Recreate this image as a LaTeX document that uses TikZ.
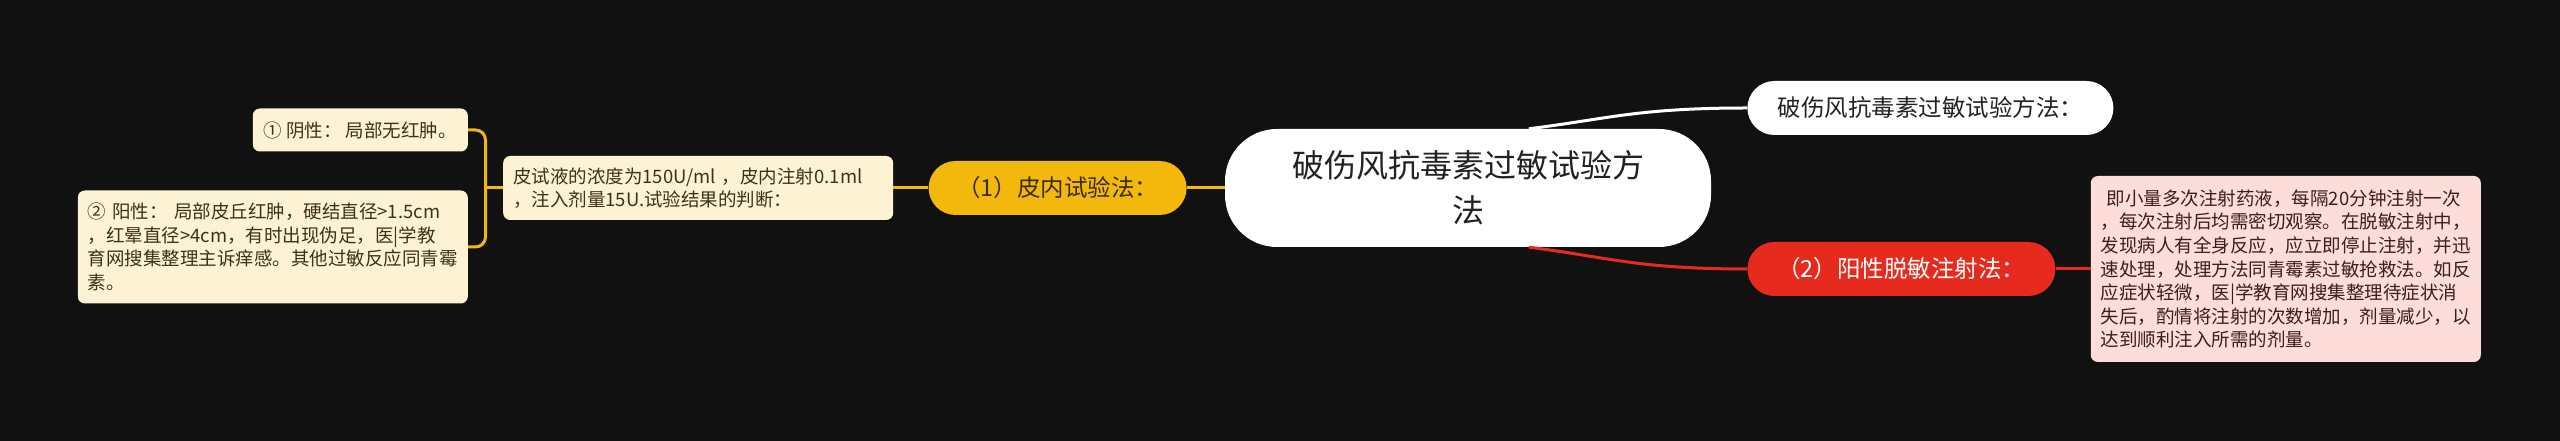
\documentclass[tikz,border=0pt]{standalone}
\usepackage{fontspec}
\setmainfont{Noto Sans CJK SC}
\usetikzlibrary{positioning, calc}

\definecolor{bgcol}{HTML}{111111}
\definecolor{rootink}{HTML}{222222}
\definecolor{yel}{HTML}{F2B80C}
\definecolor{yelink}{HTML}{3A2C06}
\definecolor{redcol}{HTML}{E62B1E}
\definecolor{leaf}{HTML}{FDF3D4}
\definecolor{leafink}{HTML}{3C3218}
\definecolor{pinkcol}{HTML}{FDDCD9}
\definecolor{pinkink}{HTML}{3C1E1E}

\begin{document}
\begin{tikzpicture}[x=1pt, y=1pt,
    rootnode/.style={fill=white, text=rootink, rounded corners=52pt, minimum width=486pt, minimum height=118pt, align=center, font=\fontsize{32}{45}\selectfont},
    pill/.style={rounded corners=27pt, minimum height=54pt, font=\fontsize{23.5}{28}\selectfont},
    note/.style={rounded corners=7pt, inner xsep=10pt, inner ysep=6pt, align=left, font=\fontsize{18.5}{23.6}\selectfont},
    link/.style={line width=3pt}]

  \fill[bgcol] (0,0) rectangle (2560,441);

  % centre and first level
  \node[rootnode] (root) at (1468,253) {破伤风抗毒素过敏试验方\\法};
  \node[pill, fill=yel, text=yelink, minimum width=258pt] (skin) [left=38pt of root] {（1）皮内试验法：};
  \node[pill, fill=white, text=rootink, minimum width=366pt] (method) [right=36pt of root, yshift=80pt] {破伤风抗毒素过敏试验方法：};
  \node[pill, fill=redcol, text=white, minimum width=308pt] (desens) [right=36pt of root, yshift=-81pt] {（2）阳性脱敏注射法：};

  % notes
  \node[note, fill=leaf, text=leafink, text width=370pt, minimum height=64pt] (judge) [left=35pt of skin]
    {皮试液的浓度为150U/ml ，皮内注射0.1ml\\，注入剂量15U.试验结果的判断：};
  \node[note, fill=leaf, text=leafink, minimum width=215pt, minimum height=43pt] (neg) [left=35pt of judge, yshift=58pt]
    {① 阴性： 局部无红肿。};
  \node[note, fill=leaf, text=leafink, text width=370pt, minimum height=113pt] (pos) [left=35pt of judge, yshift=-59pt]
    {② 阳性： 局部皮丘红肿，硬结直径>1.5cm\\，红晕直径>4cm，有时出现伪足，医|学教\\育网搜集整理主诉痒感。其他过敏反应同青霉\\素。};
  \node[note, fill=pinkcol, text=pinkink, text width=370pt, minimum height=186pt] (steps) [right=35pt of desens]
    {\ 即小量多次注射药液，每隔20分钟注射一次\\，每次注射后均需密切观察。在脱敏注射中，\\发现病人有全身反应，应立即停止注射，并迅\\速处理，处理方法同青霉素过敏抢救法。如反\\应症状轻微，医|学教育网搜集整理待症状消\\失后，酌情将注射的次数增加，剂量减少，以\\达到顺利注入所需的剂量。};

  % connectors
  \draw[link, white] ($(root.north)!0.25!(root.north east)$) .. controls +(80,10) and +(-110,0) .. (method.west);
  \draw[link, redcol] ($(root.south)!0.25!(root.south east)$) .. controls +(80,-10) and +(-110,0) .. (desens.west);
  \draw[link, redcol] (desens.east) -- (steps.west);
  \draw[link, yel] (root.west) -- (skin.east);
  \draw[link, yel] (skin.west) -- (judge.east);
  \draw[link, yel] (judge.west) -- ++(-17.5,0);
  \draw[link, yel, rounded corners=10pt] (neg.east) -| ([xshift=17.5pt]pos.east) -- (pos.east);
\end{tikzpicture}
\end{document}
